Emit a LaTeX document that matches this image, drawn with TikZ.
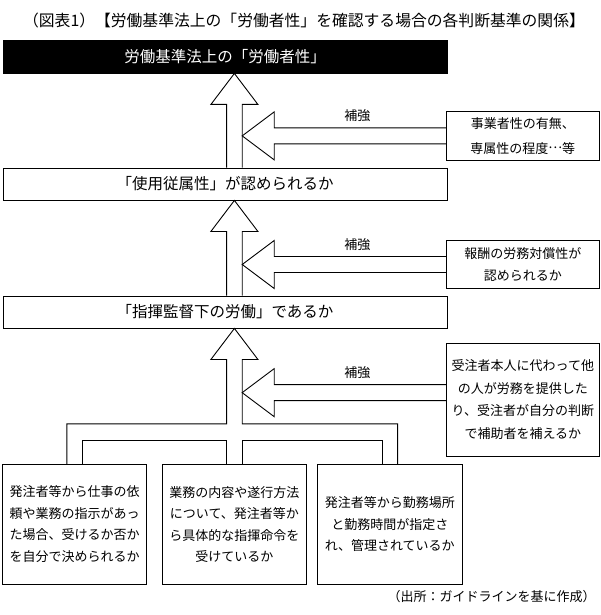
\documentclass[tikz,border=0pt]{standalone}
\usepackage{fontspec}
\setmainfont{Noto Sans CJK JP}
\usetikzlibrary{calc}
\newcommand{\bigsz}{\fontsize{15.5}{18}\selectfont}
\newcommand{\smsz}{\fontsize{13}{21.5}\selectfont}
\newcommand{\upblock}[2]{\draw[pipe] ($(#1.north -| ax)+(-7.8,0)$) -- ($(#2.south -| ax)+(-7.8,31)$) -- ($(#2.south -| ax)+(-23.5,31)$) -- (#2.south -| ax) -- ($(#2.south -| ax)+(23.5,31)$) -- ($(#2.south -| ax)+(7.8,31)$) -- ($(#1.north -| ax)+(7.8,0)$);}
\newcommand{\sideblock}[2]{\coordinate (#1e) at ($(#1.west)+(0,#2)$);\coordinate (#1t) at ($(#1e -| ax)+(7.8,0)$);
\draw[pipe] ($(#1e)+(0,-8)$) -- ($(#1t)+(32,-8)$) -- ($(#1t)+(32,-24)$) -- (#1t) -- ($(#1t)+(32,24)$) -- ($(#1t)+(32,8)$) -- ($(#1e)+(0,8)$);
\node[hint] (#1l) at ($(#1e)+(-89,-20)$) {補強};}
\begin{document}
\begin{tikzpicture}[x=1pt,y=-1pt,line width=.9pt,
  box/.style={draw,minimum width=444pt,minimum height=32pt,inner sep=0pt,font=\bigsz},
  side/.style={draw,minimum width=152.3pt,inner sep=0pt,align=center,font=\smsz},
  leaf/.style={draw,minimum width=144pt,minimum height=120pt,inner sep=0pt,align=center,font=\smsz},
  hint/.style={font=\smsz},
  pipe/.style={draw,line join=miter}]
\path[use as bounding box,fill=white] (0,0) rectangle (600,615);
\node[font=\fontsize{15.8}{18}\selectfont] (title) at (304,20) {（図表1）【労働基準法上の「労働者性」を確認する場合の各判断基準の関係】};
\node[box,fill=black,text=white,minimum height=33pt] (top) at (225,56.5) {労働基準法上の「労働者性」};
\node[box] (use) at (225,184) {「使用従属性」が認められるか};\node[box] (ctrl) at (225,312) {「指揮監督下の労働」であるか};
\node[side,minimum height=48.3pt] (s1) at (522.85,135.85) {事業者性の有無、\\[3pt]専属性の程度\raisebox{.35em}{…}等};
\node[side,minimum height=47.6pt] (s2) at (522.85,264.5) {報酬の労務対償性が\\認められるか};
\node[side,minimum height=112.7pt] (s3) at (522.85,399.65) {受注者本人に代わって他\\[1pt]の人が労務を提供した\\[1pt]り、受注者が自分の判断\\[1pt]で補助者を補えるか};
\node[leaf] (f1) at (74.7,524.3) {発注者等から仕事の依\\頼や業務の指示があっ\\た場合、受けるか否か\\を自分で決められるか};
\node[leaf] (f2) at (234.4,524.3) {業務の内容や遂行方法\\について、発注者等か\\ら具体的な指揮命令を\\受けているか};
\node[leaf,minimum width=145pt] (f3) at (389.8,524.3) {発注者等から勤務場所\\と勤務時間が指定さ\\れ、管理されているか};
\node[hint] (src) at (491.5,596.7) {（出所：ガイドラインを基に作成）};
\coordinate (ax) at (f2.north);
\upblock{use}{top}
\upblock{ctrl}{use}
\draw[pipe] ($(f1.north)+(-7.8,0)$) |- ($(ax)+(-7.8,-40)$) -- ($(ctrl.south -| ax)+(-7.8,31)$) -- ($(ctrl.south -| ax)+(-23.5,31)$) -- (ctrl.south -| ax) -- ($(ctrl.south -| ax)+(23.5,31)$) -- ($(ctrl.south -| ax)+(7.8,31)$) -- ($(ax)+(7.8,-40)$) -| ($(f3.north)+(7.8,0)$);
\draw[pipe] ($(f1.north)+(7.8,0)$) |- ($(ax)+(-7.8,-23.6)$) -- ($(ax)+(-7.8,0)$);
\draw[pipe] ($(ax)+(7.8,0)$) |- ($(f3.north)+(-7.8,-23.6)$) -- ($(f3.north)+(-7.8,0)$);
\sideblock{s1}{0}
\sideblock{s2}{0}
\sideblock{s3}{-7}
\end{tikzpicture}
\end{document}
